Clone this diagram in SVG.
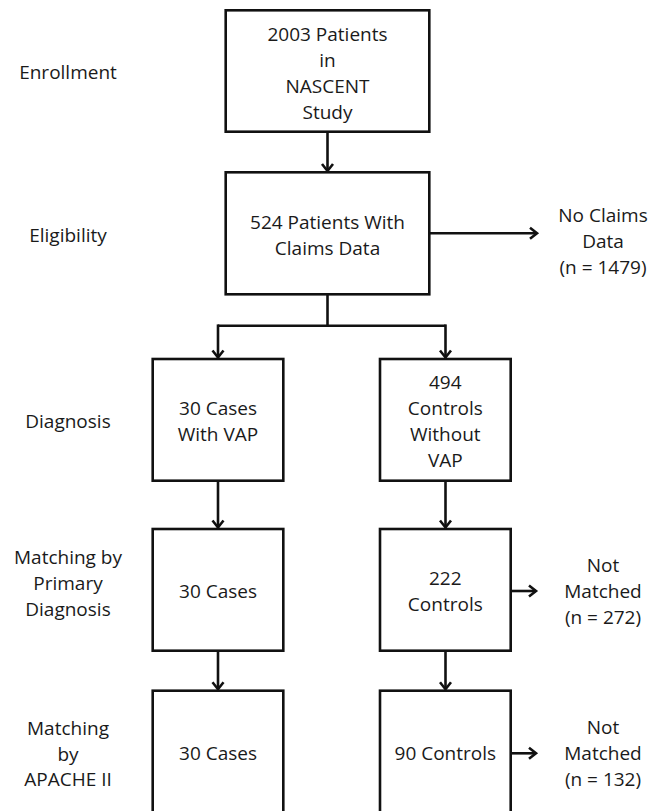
<svg xmlns="http://www.w3.org/2000/svg" width="657" height="811" viewBox="0 0 657 811">
<defs>
<style>
.box{fill:#fff;stroke:#111;stroke-width:2.6}
.ln{fill:none;stroke:#111;stroke-width:2.6}
text{font-family:"Open Sans","Liberation Sans",Arial,sans-serif;font-size:19px;fill:#1a1a1a;text-anchor:middle}
</style>
<marker id="arr" markerUnits="userSpaceOnUse" markerWidth="16" markerHeight="16" viewBox="-10 -8 12 16" refX="0" refY="0" orient="auto">
<path d="M-7,-5.5 L0,0 L-7,5.5" fill="none" stroke="#111" stroke-width="2.6" stroke-linejoin="miter"/>
</marker>
</defs>
<rect width="657" height="811" fill="#fff"/>
<g id="stage-labels">
<text x="68" y="79">Enrollment</text>
<text x="68" y="242">Eligibility</text>
<text x="68" y="428">Diagnosis</text>
<text x="68" y="564">Matching by</text>
<text x="68" y="590">Primary</text>
<text x="68" y="616">Diagnosis</text>
<text x="68" y="734.5">Matching</text>
<text x="68" y="760.5">by</text>
<text x="68" y="786">APACHE II</text>
</g>
<g id="connectors">
<line class="ln" x1="327.5" y1="131.7" x2="327.5" y2="171" marker-end="url(#arr)"/>
<line class="ln" x1="429.3" y1="233.3" x2="537" y2="233.3" marker-end="url(#arr)"/>
<polyline class="ln" points="327.5,294.3 327.5,325.7"/>
<line class="ln" x1="218" y1="325.7" x2="445.5" y2="325.7"/>
<line class="ln" x1="218" y1="324.4" x2="218" y2="357.5" marker-end="url(#arr)"/>
<line class="ln" x1="445.5" y1="324.4" x2="445.5" y2="357.5" marker-end="url(#arr)"/>
<line class="ln" x1="218" y1="480.7" x2="218" y2="527.5" marker-end="url(#arr)"/>
<line class="ln" x1="445.5" y1="480.7" x2="445.5" y2="527.5" marker-end="url(#arr)"/>
<line class="ln" x1="218" y1="650.7" x2="218" y2="689.2" marker-end="url(#arr)"/>
<line class="ln" x1="445.5" y1="650.7" x2="445.5" y2="689.2" marker-end="url(#arr)"/>
<line class="ln" x1="510.7" y1="591" x2="536" y2="591" marker-end="url(#arr)"/>
<line class="ln" x1="510.7" y1="753.3" x2="536" y2="753.3" marker-end="url(#arr)"/>
</g>
<g id="enrollment">
<rect class="box" x="225.7" y="10.3" width="203.6" height="121.4"/>
<text x="327.5" y="40.7">2003 Patients</text>
<text x="327.5" y="66.7">in</text>
<text x="327.5" y="92.7">NASCENT</text>
<text x="327.5" y="118.7">Study</text>
</g>
<g id="eligibility">
<rect class="box" x="225.7" y="172.3" width="203.6" height="122"/>
<text x="327.5" y="229">524 Patients With</text>
<text x="327.5" y="255">Claims Data</text>
</g>
<g id="no-claims">
<text x="603" y="221.7">No Claims</text>
<text x="603" y="247.7">Data</text>
<text x="603" y="273.7">(n = 1479)</text>
</g>
<g id="cases-vap">
<rect class="box" x="152.7" y="359" width="130.6" height="121.7"/>
<text x="218" y="415">30 Cases</text>
<text x="218" y="441">With VAP</text>
</g>
<g id="controls-494">
<rect class="box" x="380" y="359" width="130.7" height="121.7"/>
<text x="445.3" y="389">494</text>
<text x="445.3" y="415">Controls</text>
<text x="445.3" y="441">Without</text>
<text x="445.3" y="467">VAP</text>
</g>
<g id="cases-primary">
<rect class="box" x="152.7" y="529" width="130.6" height="121.7"/>
<text x="218" y="598">30 Cases</text>
</g>
<g id="controls-222">
<rect class="box" x="380" y="529" width="130.7" height="121.7"/>
<text x="445.3" y="585">222</text>
<text x="445.3" y="611">Controls</text>
</g>
<g id="not-matched-272">
<text x="603" y="572">Not</text>
<text x="603" y="598">Matched</text>
<text x="603" y="624">(n = 272)</text>
</g>
<g id="cases-apache">
<rect class="box" x="152.7" y="690.7" width="130.6" height="140"/>
<text x="218" y="760">30 Cases</text>
</g>
<g id="controls-90">
<rect class="box" x="380" y="690.7" width="130.7" height="140"/>
<text x="445.3" y="760">90 Controls</text>
</g>
<g id="not-matched-132">
<text x="603" y="734">Not</text>
<text x="603" y="760">Matched</text>
<text x="603" y="786">(n = 132)</text>
</g>
</svg>
